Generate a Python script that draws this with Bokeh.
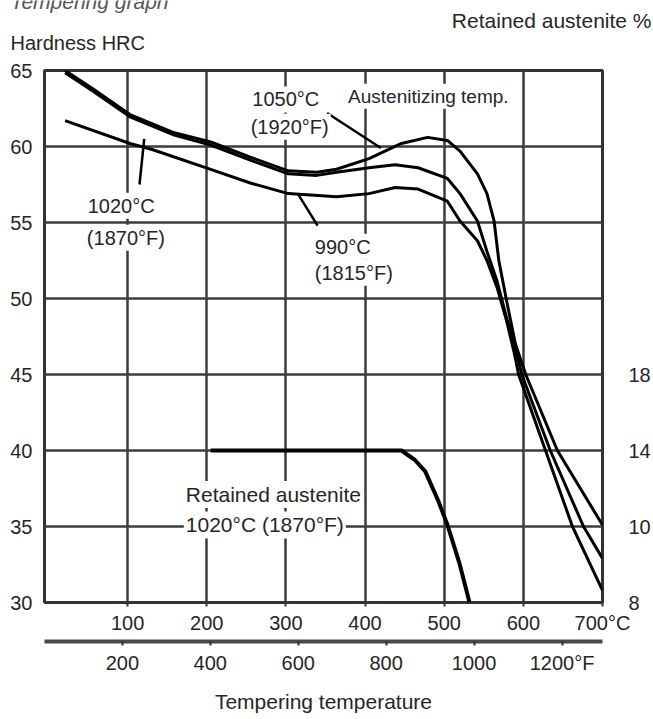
from bokeh.plotting import figure
from bokeh.layouts import column
from bokeh.models import Range1d, LinearAxis, FixedTicker, Label
from bokeh.core.properties import value
from bokeh.embed import file_html
from bokeh.resources import INLINE

FONT = "Liberation Sans"
TXT = "#262626"
GRID = "#3c3c3c"

# ---------------- data ----------------
# Hardness after tempering, austenitized at 1050 °C
temp_1050 = [21, 56, 103, 159, 205, 255, 303, 339, 364, 405, 446, 479, 504, 520, 542, 554,
             563, 569, 579, 590, 603, 643, 700]
hrc_1050 = [65.0, 63.8, 62.1, 60.9, 60.3, 59.3, 58.4, 58.3, 58.5, 59.2, 60.2, 60.6, 60.4, 59.7,
            58.2, 56.9, 55.1, 52.5, 49.8, 47.0, 45.0, 40.0, 35.1]

# austenitized at 1020 °C
temp_1020 = [21, 56, 103, 159, 205, 255, 303, 339, 364, 405, 438, 467, 504, 520, 542, 554,
             567, 579, 592, 598, 634, 676, 700]
hrc_1020 = [64.85, 63.65, 61.95, 60.75, 60.1, 59.1, 58.2, 58.1, 58.3, 58.6, 58.8, 58.6, 57.9,
            56.9, 55.1, 53.1, 51.1, 48.7, 46.3, 45.0, 40.0, 35.0, 32.9]

# austenitized at 990 °C
temp_990 = [21, 103, 131, 205, 255, 303, 364, 405, 438, 467, 504, 520, 542, 554, 567, 579,
            589, 594, 628, 662, 700]
hrc_990 = [61.7, 60.2, 59.8, 58.5, 57.6, 56.9, 56.7, 56.9, 57.3, 57.2, 56.4, 55.1, 53.8, 52.5,
           50.7, 48.5, 46.3, 45.0, 40.0, 35.0, 30.8]

# Retained austenite %, austenitized at 1020 °C
ra_temp = [205, 446, 463, 476, 492, 504, 519, 532]
ra_pct = [14.0, 14.0, 13.5, 12.9, 11.4, 10.1, 8.1, 6.0]

# annotation leader lines (°C, HRC)
lead_1050_t = [352, 420]
lead_1050_h = [62.2, 59.9]
lead_1020_t = [115, 121]
lead_1020_h = [57.5, 60.5]
lead_990_t = [315, 340]
lead_990_h = [56.9, 54.8]

# ticks
c_ticks = [100, 200, 300, 400, 500, 600, 700]
c_labels = ["100", "200", "300", "400", "500", "600", "700°C"]
f_ticks = [200, 400, 600, 800, 1000, 1200]
f_labels = ["200", "400", "600", "800", "1000", "1200°F"]
hrc_ticks = [30, 35, 40, 45, 50, 55, 60, 65]
ra_ticks = [6, 10, 14, 18]
ra_labels = ["8", "10", "14", "18"]
x_grid = [100, 200, 300, 400, 500, 600]
y_grid = [35, 40, 45, 50, 55, 60]


def c2f(c):
    return c * 9 / 5 + 32


W, H = 653, 719
HEAD = 52                                   # header strip holding the top texts
FL, FR, FT, FB = 44, 607, 70, 602           # frame edges in page pixels

# ---------------- header with the titles ----------------
hd = figure(width=W, height=HEAD, output_backend="svg", toolbar_location=None,
            x_range=Range1d(0, W), y_range=Range1d(HEAD, 0),
            x_axis_location=None, y_axis_location=None,
            min_border_left=0, min_border_right=0, min_border_top=0, min_border_bottom=0)
hd.frame_align = False
hd.outline_line_color = None
hd.grid.visible = False
hd.background_fill_color = "white"
hd.border_fill_color = "white"

hd.text(x=[10], y=[1], text=["Tempering graph"], text_font=value(FONT),
        text_font_size="21px", text_font_style="italic", text_color="#555555",
        text_align="left", text_baseline="alphabetic")
hd.text(x=[651], y=[20], text=["Retained austenite %"], text_font=value(FONT),
        text_font_size="21px", text_color=TXT, text_align="right", text_baseline="middle")
hd.text(x=[10], y=[42], text=["Hardness HRC"], text_font=value(FONT),
        text_font_size="20px", text_color=TXT, text_align="left", text_baseline="middle")

# ---------------- main chart ----------------
X0, X1 = -5, 700
p = figure(width=W, height=H - HEAD, output_backend="svg", toolbar_location=None,
           x_range=Range1d(X0, X1), y_range=Range1d(30, 65),
           min_border_left=FL, min_border_right=W - FR, min_border_top=FT - HEAD,
           min_border_bottom=H - FB)
p.frame_align = False
p.extra_x_ranges = {"F": Range1d(c2f(X0), c2f(X1))}
p.extra_y_ranges = {"ra": Range1d(6, 34)}

p.background_fill_color = "white"
p.border_fill_color = "white"
p.outline_line_color = "#333333"
p.outline_line_width = 3

# grids
p.xgrid.ticker = FixedTicker(ticks=x_grid)
p.ygrid.ticker = FixedTicker(ticks=y_grid)
for g in (p.xgrid, p.ygrid):
    g.grid_line_color = GRID
    g.grid_line_width = 2.5

# °C axis (frame bottom)
xa = p.below[0]
xa.ticker = FixedTicker(ticks=c_ticks)
xa.major_label_overrides = {t: l for t, l in zip(c_ticks, c_labels)}
xa.axis_line_color = None
xa.major_tick_out = 4
xa.major_tick_in = 0
xa.major_tick_line_color = "#333333"
xa.major_tick_line_width = 2
xa.minor_tick_line_color = None
xa.major_label_standoff = 5
xa.axis_label = " "
xa.axis_label_text_font_size = "2px"
xa.axis_label_standoff = 0

# HRC axis
ya = p.left[0]
ya.ticker = FixedTicker(ticks=hrc_ticks)
ya.axis_line_color = None
ya.major_tick_line_color = None
ya.minor_tick_line_color = None
ya.major_label_standoff = 6

# °F axis
fa = LinearAxis(x_range_name="F", ticker=FixedTicker(ticks=f_ticks))
fa.major_label_overrides = {t: l for t, l in zip(f_ticks, f_labels)}
fa.axis_line_color = "#4a4a4a"
fa.axis_line_width = 4
fa.major_tick_out = 4
fa.major_tick_in = 0
fa.major_tick_line_color = "#333333"
fa.major_tick_line_width = 2
fa.minor_tick_line_color = None
fa.major_label_standoff = 6
fa.axis_label = "Tempering temperature"
fa.axis_label_text_font = FONT
fa.axis_label_text_font_size = "21px"
fa.axis_label_text_font_style = "normal"
fa.axis_label_text_color = TXT
fa.axis_label_standoff = 13
p.add_layout(fa, "below")

# retained austenite axis
ra = LinearAxis(y_range_name="ra", ticker=FixedTicker(ticks=ra_ticks))
ra.major_label_overrides = {t: l for t, l in zip(ra_ticks, ra_labels)}
ra.axis_line_color = None
ra.major_tick_line_color = None
ra.minor_tick_line_color = None
ra.major_label_standoff = 20
p.add_layout(ra, "right")

for ax in (xa, ya, fa, ra):
    ax.major_label_text_font = FONT
    ax.major_label_text_font_size = "20px"
    ax.major_label_text_color = TXT

# curves
p.line(temp_1050, hrc_1050, line_color="black", line_width=3)
p.line(temp_1020, hrc_1020, line_color="black", line_width=3)
p.line(temp_990, hrc_990, line_color="black", line_width=3)
p.line(ra_temp, ra_pct, y_range_name="ra", line_color="black", line_width=4)

for lt, lh in ((lead_1050_t, lead_1050_h), (lead_1020_t, lead_1020_h), (lead_990_t, lead_990_h)):
    p.line(lt, lh, line_color="black", line_width=2.5)

# in-plot annotations
notes = [
    (255, 63.1, "1050°C", 20), (253, 61.3, "(1920°F)", 20),
    (376, 63.3, "Austenitizing temp.", 19),
    (47, 56.1, "1020°C", 20), (46, 54.0, "(1870°F)", 20),
    (334, 53.4, "990°C", 20), (334, 51.7, "(1815°F)", 20),
    (171, 37.1, "Retained austenite", 21), (171, 35.1, "1020°C (1870°F)", 21),
]
for x, y, t, fs in notes:
    p.add_layout(Label(x=x, y=y, text=t, text_font=FONT, text_font_size=f"{fs}px",
                       text_color=TXT, text_align="left", text_baseline="middle",
                       background_fill_color="white", background_fill_alpha=1.0,
                       padding=2))

page = column(hd, p, spacing=0)
open("out.html", "w").write(file_html(page, INLINE))
